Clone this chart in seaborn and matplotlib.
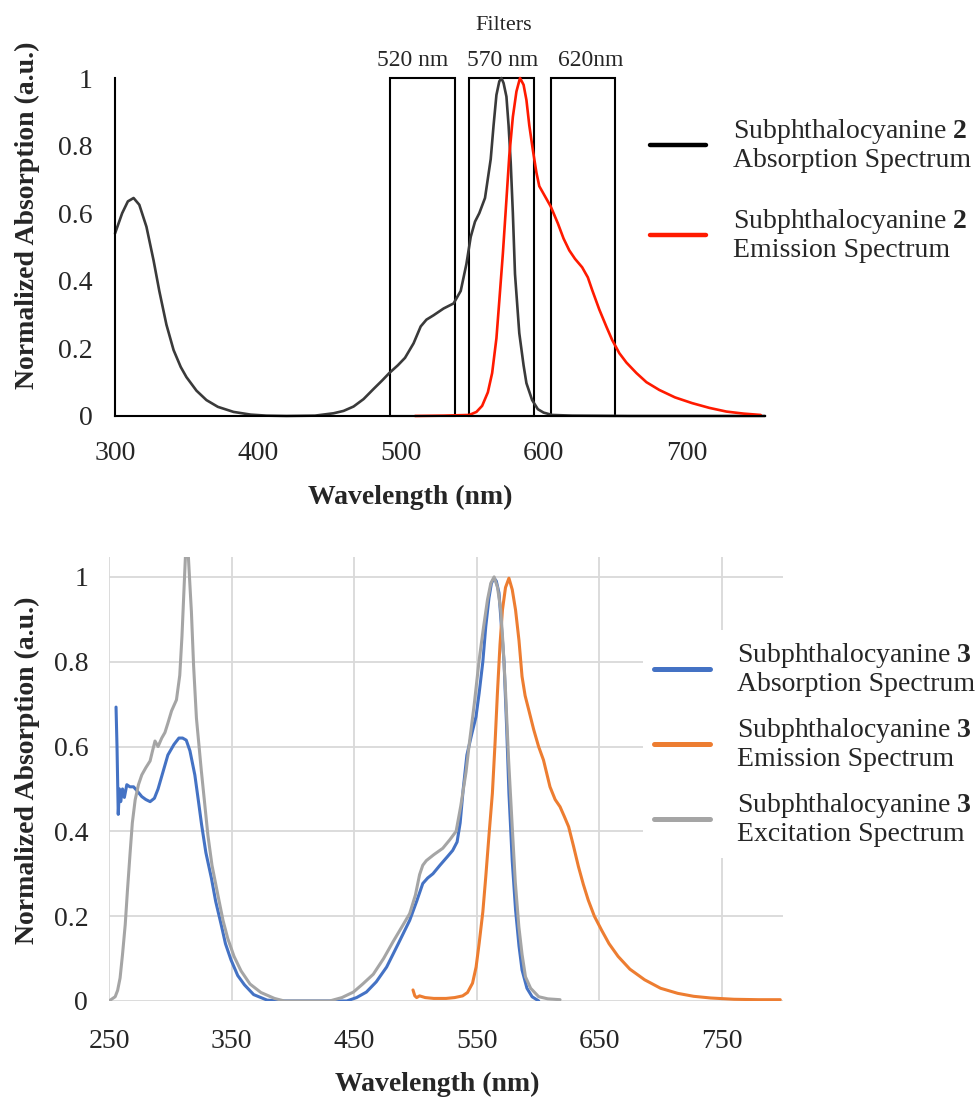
import matplotlib
matplotlib.use("Agg")
import matplotlib.pyplot as plt
import seaborn as sns

# ---- top panel: subphthalocyanine 2 ----
abs2_wl = [300, 305, 309, 313, 317, 322, 327, 331, 336, 341, 346, 350, 357, 364, 372,
           383, 395, 406, 420, 440, 453, 460, 467, 474, 481, 487, 492, 498, 503, 509,
           514, 518, 523, 530, 537, 542, 546, 549, 552, 555, 559, 563, 565, 567, 569,
           570.5, 572, 574, 575.5, 577, 578.5, 580, 583, 586, 588, 592, 596, 600, 606,
           620, 660, 700, 755]
abs2_val = [0.54, 0.60, 0.635, 0.645, 0.625, 0.56, 0.46, 0.37, 0.27, 0.195, 0.145, 0.115,
            0.075, 0.047, 0.027, 0.012, 0.004, 0.001, 0.0, 0.001, 0.008, 0.015, 0.028,
            0.05, 0.08, 0.105, 0.127, 0.15, 0.172, 0.215, 0.265, 0.285, 0.298, 0.318,
            0.333, 0.37, 0.45, 0.53, 0.575, 0.60, 0.645, 0.76, 0.86, 0.95, 0.99, 1.0,
            0.985, 0.945, 0.86, 0.75, 0.60, 0.42, 0.245, 0.15, 0.097, 0.047, 0.02, 0.01,
            0.003, 0.001, 0.0, 0.0, 0.0]

em2_wl = [510, 530, 548, 553, 557, 561, 564, 567, 569, 571.5, 574, 576, 578.5, 581,
          583.5, 586, 588, 590, 592.5, 595, 597, 601, 605, 610, 614, 618, 622, 627, 631,
          634, 639, 644, 648, 653, 658, 665, 672, 681, 692, 704, 716, 728, 740, 752]
em2_val = [0.0, 0.001, 0.003, 0.012, 0.03, 0.07, 0.127, 0.23, 0.34, 0.48, 0.64, 0.77,
           0.885, 0.96, 1.0, 0.98, 0.935, 0.86, 0.787, 0.72, 0.68, 0.65, 0.62, 0.57,
           0.525, 0.49, 0.465, 0.44, 0.41, 0.373, 0.315, 0.264, 0.225, 0.186, 0.158,
           0.127, 0.1, 0.077, 0.055, 0.038, 0.024, 0.013, 0.007, 0.003]

filter_lo = [492.5, 548, 605]
filter_hi = [538, 593.5, 650]
filter_names = ["520 nm", "570 nm", "620nm"]
filter_label_x = [508, 571, 633]

# ---- bottom panel: subphthalocyanine 3 ----
abs3_wl = [255.7, 256.5, 257.5, 258.5, 259.5, 261, 262.5, 264.5, 267, 270, 273, 276.7,
           280, 283.5, 287, 290, 294, 298, 303, 307, 310, 313, 316, 320, 323, 325.5,
           329, 333.5, 337, 341.5, 345, 349.5, 355, 360.5, 368, 379, 390, 444, 452, 460,
           468, 476.5, 486, 495.3, 501, 506, 510, 514.3, 520, 526, 530.4, 534, 536.5,
           539, 542, 546, 549.4, 552, 555, 557.4, 560, 562, 564.2, 566, 568.2, 570,
           572.3, 574.5, 576.3, 579, 581.7, 584.5, 587, 591, 595.2, 600.6]
abs3_val = [0.693, 0.60, 0.44, 0.50, 0.47, 0.50, 0.48, 0.51, 0.505, 0.505, 0.495, 0.482,
            0.475, 0.47, 0.478, 0.50, 0.54, 0.58, 0.605, 0.62, 0.62, 0.615, 0.59, 0.533,
            0.47, 0.416, 0.35, 0.29, 0.235, 0.18, 0.135, 0.097, 0.06, 0.038, 0.015,
            0.002, 0.0, 0.0, 0.008, 0.021, 0.045, 0.08, 0.135, 0.19, 0.235, 0.277, 0.29,
            0.30, 0.32, 0.34, 0.355, 0.375, 0.42, 0.50, 0.58, 0.63, 0.67, 0.726, 0.80,
            0.883, 0.95, 0.985, 0.997, 0.99, 0.962, 0.89, 0.80, 0.64, 0.49, 0.33, 0.215,
            0.13, 0.073, 0.03, 0.01, 0.0]

exc3_wl = [250, 255, 257, 259, 261, 263.2, 265, 267.2, 269, 271.3, 274, 276.7, 280, 283.5,
           285.5, 287.5, 290, 293, 295.6, 298, 301, 305, 307.7, 309.5, 311, 312.5, 313.5,
           314.5, 316, 317.2, 319, 321.3, 325.3, 330.7, 334, 338.8, 343, 346.9, 352,
           357.7, 365, 373.9, 385, 393, 430, 440, 449.4, 457, 465.6, 474, 481.8, 489,
           495.3, 500, 503.4, 506, 508.9, 515, 522.3, 528, 533.2, 537, 541.3, 544, 548,
           552, 555.5, 558.8, 561.5, 564.2, 567, 569.6, 571.5, 573.6, 576, 579, 581.5,
           584.4, 587, 589.8, 594, 600.6, 608, 618]
exc3_val = [0.0, 0.01, 0.025, 0.054, 0.11, 0.18, 0.26, 0.35, 0.42, 0.474, 0.51, 0.533,
            0.55, 0.566, 0.59, 0.613, 0.60, 0.62, 0.633, 0.655, 0.684, 0.71, 0.768, 0.86,
            0.96, 1.06, 1.10, 1.06, 0.98, 0.918, 0.79, 0.667, 0.543, 0.39, 0.32, 0.25,
            0.19, 0.147, 0.105, 0.071, 0.04, 0.02, 0.006, 0.0, 0.0, 0.008, 0.021, 0.04,
            0.063, 0.10, 0.14, 0.175, 0.206, 0.25, 0.298, 0.32, 0.331, 0.345, 0.36, 0.38,
            0.40, 0.46, 0.54, 0.608, 0.70, 0.804, 0.88, 0.946, 0.985, 1.0, 0.975, 0.922,
            0.84, 0.726, 0.57, 0.41, 0.28, 0.175, 0.11, 0.057, 0.03, 0.01, 0.005, 0.003]

em3_wl = [498, 499.5, 501, 503.4, 508, 515, 525, 532, 538.5, 542.5, 546.6, 549.5, 552,
          555, 557.4, 560, 562.8, 565, 566.9, 569, 571, 573.5, 576.3, 579, 581.7, 584.5,
          587, 589.5, 592.5, 596.5, 600.5, 604.5, 609.8, 614, 618, 621.5, 625, 629, 633,
          637, 641, 646, 651.9, 658, 665.4, 675, 687, 700, 714, 727, 741, 760, 780, 797.7]
em3_val = [0.026, 0.012, 0.008, 0.012, 0.008, 0.006, 0.006, 0.008, 0.012, 0.02, 0.042,
           0.08, 0.136, 0.21, 0.293, 0.39, 0.49, 0.61, 0.726, 0.84, 0.922, 0.975, 0.997,
           0.97, 0.922, 0.85, 0.765, 0.72, 0.686, 0.64, 0.60, 0.568, 0.505, 0.475, 0.458,
           0.435, 0.411, 0.365, 0.317, 0.275, 0.238, 0.2, 0.167, 0.135, 0.105, 0.075,
           0.05, 0.03, 0.018, 0.011, 0.007, 0.004, 0.003, 0.003]

top_xticks = [300, 400, 500, 600, 700]
bottom_xticks = [250, 350, 450, 550, 650, 750]
yticks = [0, 0.2, 0.4, 0.6, 0.8, 1.0]
ytick_labels = ["0", "0.2", "0.4", "0.6", "0.8", "1"]

sns.set_style("white")
plt.rcParams["font.family"] = ["Liberation Serif", "DejaVu Serif"]
plt.rcParams["mathtext.fontset"] = "custom"
plt.rcParams["mathtext.rm"] = "Liberation Serif"
plt.rcParams["mathtext.bf"] = "Liberation Serif:bold"

fig = plt.figure(figsize=(9.78, 10.99), dpi=100)
ax1 = fig.add_axes([0.1176, 0.6215, 0.6646, 0.3075])
ax2 = fig.add_axes([0.1115, 0.0892, 0.6892, 0.4040])

# top chart
sns.lineplot(x=abs2_wl, y=abs2_val, ax=ax1, color="#3a3a3a", lw=1.9,
             label="Subphthalocyanine $\\mathbf{2}$\nAbsorption Spectrum", clip_on=False)
sns.lineplot(x=em2_wl, y=em2_val, ax=ax1, color="#ff1a00", lw=1.9,
             label="Subphthalocyanine $\\mathbf{2}$\nEmission Spectrum", clip_on=False)

for lo, hi in zip(filter_lo, filter_hi):
    ax1.axvspan(lo, hi, ymin=0, ymax=1, fill=False, ec="black", lw=1.5, clip_on=False)
for name, xl in zip(filter_names, filter_label_x):
    ax1.text(xl, 1.052, name, ha="center", va="center", fontsize=17, clip_on=False)
ax1.text(572, 1.155, "Filters", ha="center", va="center", fontsize=16, clip_on=False)

ax1.set_xlim(300, 755)
ax1.set_ylim(0, 1.0)
ax1.set_xticks(top_xticks)
ax1.set_xticklabels([str(t) for t in top_xticks], fontsize=20)
ax1.set_yticks(yticks)
ax1.set_yticklabels(ytick_labels, fontsize=20)
ax1.tick_params(length=0)
ax1.tick_params(axis="x", pad=18)
ax1.tick_params(axis="y", pad=16)
for side in ["top", "right"]:
    ax1.spines[side].set_visible(False)
for side in ["left", "bottom"]:
    ax1.spines[side].set_color("black")
    ax1.spines[side].set_linewidth(1.5)
ax1.set_xlabel("Wavelength (nm)", fontsize=20, fontweight="bold")
ax1.set_ylabel("Normalized Absorption (a.u.)", fontsize=20, fontweight="bold")
ax1.xaxis.set_label_coords(0.454, -0.203)
ax1.yaxis.set_label_coords(-0.115, 0.595)

leg1 = ax1.legend(loc="upper left", bbox_to_anchor=(0.6646, 0.8935),
                  bbox_transform=fig.transFigure, frameon=False, fontsize=20,
                  handlelength=2.0, handletextpad=1.0, labelspacing=1.25,
                  borderpad=0, borderaxespad=0)
leg_colors1 = ["black", "#ff1a00"]
for h, c in zip(leg1.get_lines(), leg_colors1):
    h.set_color(c)
    h.set_linewidth(3.2)
for t in leg1.get_texts():
    t.set_linespacing(1.08)

# bottom chart
sns.lineplot(x=abs3_wl, y=abs3_val, ax=ax2, color="#4472c4", lw=2.2,
             label="Subphthalocyanine $\\mathbf{3}$\nAbsorption Spectrum")
sns.lineplot(x=em3_wl, y=em3_val, ax=ax2, color="#ed7d31", lw=2.2,
             label="Subphthalocyanine $\\mathbf{3}$\nEmission Spectrum")
sns.lineplot(x=exc3_wl, y=exc3_val, ax=ax2, color="#a5a5a5", lw=2.2,
             label="Subphthalocyanine $\\mathbf{3}$\nExcitation Spectrum")

ax2.set_xlim(250, 800)
ax2.set_ylim(0, 1.047)
ax2.set_xticks(bottom_xticks)
ax2.set_xticklabels([str(t) for t in bottom_xticks], fontsize=20)
ax2.set_yticks(yticks)
ax2.set_yticklabels(ytick_labels, fontsize=20)
ax2.tick_params(length=0)
ax2.tick_params(axis="x", pad=20)
ax2.tick_params(axis="y", pad=15)
ax2.grid(True, color="#d9d9d9", lw=1.3)
ax2.set_axisbelow(True)
for side in ["top", "right", "left", "bottom"]:
    ax2.spines[side].set_visible(False)
ax2.set_xlabel("Wavelength (nm)", fontsize=20, fontweight="bold")
ax2.set_ylabel("Normalized Absorption (a.u.)", fontsize=20, fontweight="bold")
ax2.xaxis.set_label_coords(0.487, -0.16)
ax2.yaxis.set_label_coords(-0.103, 0.52)

leg2 = ax2.legend(loc="upper left", bbox_to_anchor=(0.6575, 0.4265),
                  bbox_transform=fig.transFigure, frameon=True, fontsize=20,
                  handlelength=2.0, handletextpad=1.0, labelspacing=0.7,
                  borderpad=0.4, borderaxespad=0, fancybox=False, framealpha=1.0)
leg2.get_frame().set_facecolor("white")
leg2.get_frame().set_edgecolor("none")
for h in leg2.get_lines():
    h.set_linewidth(3.6)
for t in leg2.get_texts():
    t.set_linespacing(1.08)

fig.savefig("out.png", dpi=100)
